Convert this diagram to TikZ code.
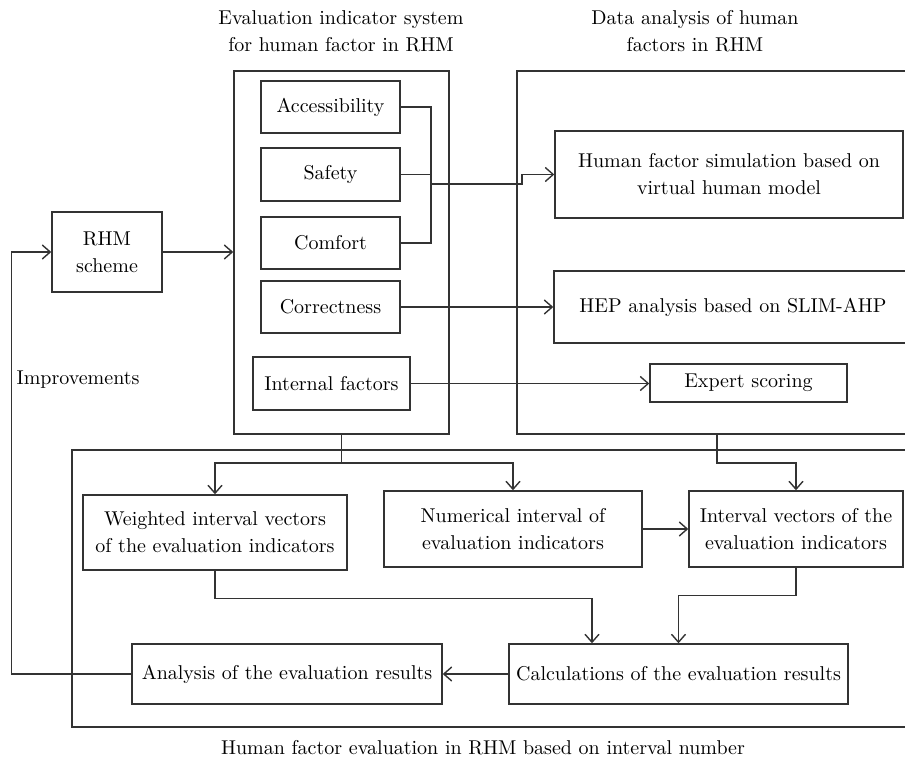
\documentclass[tikz,border=0pt]{standalone}
\usetikzlibrary{arrows.meta}
\tikzset{
  box/.style={draw=black!80, line width=0.7pt, align=center, inner sep=2pt},
  frame/.style={draw=black!80, line width=0.7pt},
  link/.style={draw=black!80, line width=0.7pt},
}
\begin{document}
\begin{tikzpicture}[x=0.5pt, y=-0.5pt, >={Straight Barb[length=4pt,width=7pt]},
    font=\fontsize{10}{13.5}\selectfont]
				\clip (0,0) rectangle (905,765);

				% frames
				\node[frame, minimum width=107.5pt, minimum height=181.5pt] (sys) at (341.5,252.5) {};
				\node[frame, minimum width=206.5pt, minimum height=181.5pt] (data) at (723.5,252.5) {};
				\node[frame, minimum width=429pt, minimum height=138.5pt] (eval) at (501,588.5) {};

				\node[align=center] (systitle) at (341,31) {Evaluation indicator system\\for human factor in RHM};
				\node[align=center] (datatitle) at (695,31) {Data analysis of human\\factors in RHM};
				\node (evaltitle) at (483,748) {Human factor evaluation in RHM based on interval number};
				\node (improve) at (78,380) {Improvements};

				% boxes
				\node[box, minimum width=55pt, minimum height=40pt] (rhm) at (107,252) {RHM\\scheme};
				\node[box, minimum width=69.5pt, minimum height=26pt] (access) at (330.5,107) {Accessibility};
				\node[box, minimum width=69.5pt, minimum height=26.5pt] (safety) at (330.5,174.5) {Safety};
				\node[box, minimum width=69.5pt, minimum height=26pt] (comfort) at (330.5,243) {Comfort};
				\node[box, minimum width=69.5pt, minimum height=26pt] (correct) at (330.5,307) {Correctness};
				\node[box, minimum width=78.5pt, minimum height=26.5pt] (internal) at (331.5,383.5) {Internal factors};

				\node[box, minimum width=174pt, minimum height=43.5pt] (sim) at (729,174.5) {Human factor simulation based on\\virtual human model};
				\node[box, minimum width=179pt, minimum height=36pt] (hep) at (733,307) {HEP analysis based on SLIM-AHP};
				\node[box, minimum width=98.5pt, minimum height=19pt] (expert) at (748.5,383) {Expert scoring};

				\node[box, minimum width=132pt, minimum height=37.5pt] (weighted) at (215,532.5) {Weighted interval vectors\\of the evaluation indicators};
				\node[box, minimum width=129pt, minimum height=38pt] (numer) at (513,529) {Numerical interval of\\evaluation indicators};
				\node[box, minimum width=107pt, minimum height=38pt] (intvec) at (796,529) {Interval vectors of the\\evaluation indicators};
				\node[box, minimum width=155pt, minimum height=30pt] (analysis) at (287,674) {Analysis of the evaluation results};
				\node[box, minimum width=169.5pt, minimum height=30pt] (calc) at (678.5,674) {Calculations of the evaluation results};

				% connectors
				\coordinate (bus) at (431,184);
				\coordinate (split) at (341.5,463);
				\coordinate (dataout) at (717,434);

				\draw [link,->] (rhm.east) -- (rhm.east -| sys.west);
				\draw [link] (access.east) -| (bus |- comfort.east) -- (comfort.east);
				\draw [link] (safety.east) -- (safety.east -| bus);
				\draw [link,->] (bus) -- (522,184) |- (sim.west);
				\draw [link,->] (correct.east) -- (correct.east -| hep.west);
				\draw [link,->] (internal.east) -- (internal.east -| expert.west);

				\draw [link] (sys.south) -- (split);
				\draw [link,->] (split) -| (weighted.north);
				\draw [link,->] (split) -| (numer.north);
				\draw [link,->] (dataout) -- ++(0,29) -| (intvec.north);
				\draw [link,->] (numer) -- (intvec);

				\draw [link,->] (weighted.south) -- ++(0,28) -| ([xshift=-43.25pt]calc.north);
				\draw [link,->] (intvec.south) -- ++(0,28) -| (calc.north);
				\draw [link,->] (calc) -- (analysis);
				\draw [link,->] (analysis.west) -- ++(-120,0) |- (rhm.west);
			\end{tikzpicture}
\end{document}
